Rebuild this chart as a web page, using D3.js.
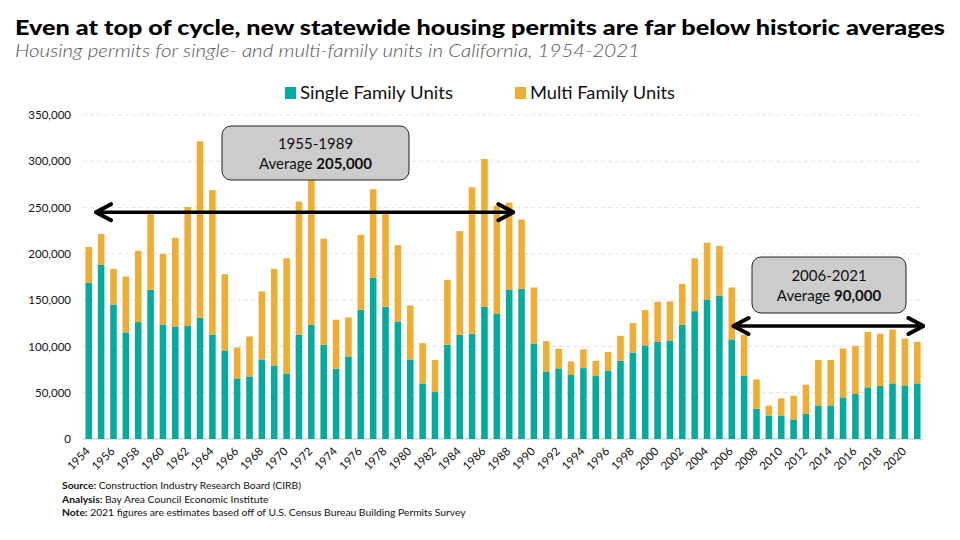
<!DOCTYPE html>
<html>
<head>
<meta charset="utf-8">
<script src="https://cdn.jsdelivr.net/npm/d3@7"></script>
<style>
  body { margin: 0; background: #fff; }
  svg { display: block; font-family: Lato, "Open Sans", sans-serif; }
</style>
</head>
<body>
<div id="chart"></div>
<script>
// California housing permits, single- vs multi-family (thousands).
var years = d3.range(1954, 2022);

var singleFamily = [
  168.7, 188.1, 145.3, 115.1, 126.3, 161.2, 123.7, 121.6, 122.7, 130.9,
  112.9, 95.7, 65.5, 67.6, 86.0, 79.5, 70.9, 112.9, 123.4, 101.8,
  75.9, 89.2, 139.6, 174.1, 142.8, 127.0, 86.0, 60.1, 50.7, 101.8,
  112.6, 113.7, 142.8, 135.6, 161.5, 162.2, 103.2, 73.0, 76.3, 69.1,
  76.6, 68.0, 74.1, 84.5, 93.5, 101.1, 105.4, 106.5, 123.4, 138.1,
  150.7, 154.7, 107.6, 68.0, 32.7, 25.5, 25.5, 21.2, 27.0, 36.3,
  36.3, 45.0, 48.6, 55.8, 57.2, 60.1, 57.9, 60.1
];

var totalUnits = [
  207.5, 221.6, 183.8, 175.5, 203.2, 243.0, 200.0, 217.3, 250.7, 321.6,
  268.7, 178.0, 98.9, 110.8, 159.4, 183.8, 195.3, 256.5, 280.6, 216.5,
  128.8, 131.3, 220.5, 269.8, 243.9, 209.4, 144.2, 103.6, 85.3, 171.9,
  224.5, 271.9, 302.5, 252.2, 255.4, 237.1, 163.7, 105.8, 97.5, 83.8,
  96.8, 84.5, 93.9, 111.5, 125.2, 139.2, 148.2, 148.6, 167.6, 195.3,
  212.2, 208.6, 163.7, 112.6, 64.4, 36.0, 43.9, 46.8, 58.6, 85.3,
  85.3, 97.8, 100.7, 115.5, 113.7, 118.3, 108.6, 105.0
];

var yTicks = [0, 50000, 100000, 150000, 200000, 250000, 300000, 350000];
var seriesNames = ["Single Family Units", "Multi Family Units"];

var width = 960,
    height = 540;

var teal = "#02ab9e",
    orange = "#efae32";

// Rows for the stack, values in units.
var rows = years.map(function (yr, i) {
  return {
    year: yr,
    single: singleFamily[i] * 1000,
    multi: (totalUnits[i] - singleFamily[i]) * 1000
  };
});

var svg = d3.select("#chart").append("svg")
  .attr("width", width)
  .attr("height", height);

var x = d3.scaleBand()
  .domain(years)
  .range([83, 923])
  .paddingInner(0.47)
  .paddingOuter(0.2);

var y = d3.scaleLinear()
  .domain([0, 350000])
  .range([439, 115]);

// Title block
var title = svg.append("text")
  .attr("x", 15)
  .attr("y", 35)
  .attr("font-size", 21)
  .attr("font-weight", 900)
  .attr("fill", "#000")
  .text("Even at top of cycle, new statewide housing permits are far below historic averages");
// squeeze/stretch to the width the original title takes
if (title.node().getComputedTextLength() > 0)
  title.attr("textLength", 930).attr("lengthAdjust", "spacingAndGlyphs");

var subtitle = svg.append("text")
  .attr("x", 15)
  .attr("y", 57)
  .attr("font-size", 18.5)
  .attr("font-style", "italic")
  .attr("font-weight", 300)
  .attr("fill", "#555")
  .text("Housing permits for single- and multi-family units in California, 1954-2021");
if (subtitle.node().getComputedTextLength() > 0)
  subtitle.attr("textLength", 625).attr("lengthAdjust", "spacingAndGlyphs");

// Legend
var legend = svg.append("g");
var legendX = [285, 515];
var legendW = [153, 145];
seriesNames.forEach(function (name, i) {
  legend.append("rect")
    .attr("x", legendX[i])
    .attr("y", 87)
    .attr("width", 11)
    .attr("height", 12)
    .attr("fill", i === 0 ? teal : orange);
  legend.append("text")
    .attr("x", legendX[i] + 15)
    .attr("y", 99)
    .attr("font-size", 17.5)
    .attr("fill", "#111")
    .attr("textLength", legendW[i])
    .attr("lengthAdjust", "spacingAndGlyphs")
    .text(name);
});

// Gridlines + y labels
var grid = svg.append("g");
grid.selectAll("line")
  .data(yTicks)
  .enter().append("line")
  .attr("x1", 83)
  .attr("x2", 923)
  .attr("y1", function (d) { return y(d); })
  .attr("y2", function (d) { return y(d); })
  .attr("stroke", function (d) { return d === 0 ? "#d9d9d9" : "#e3e3e3"; })
  .attr("stroke-width", function (d) { return d === 0 ? 1.5 : 1; })
  .attr("stroke-dasharray", function (d) { return d === 0 ? null : "4,3"; });

var yAxis = svg.append("g")
  .attr("transform", "translate(83,0)")
  .call(d3.axisLeft(y).tickValues(yTicks).tickFormat(d3.format(",")).tickSize(0).tickPadding(12));
yAxis.select(".domain").remove();
yAxis.selectAll("text")
  .attr("font-family", "Lato, sans-serif")
  .attr("font-size", 11.5)
  .attr("fill", "#111");

// Stacked bars
var stack = d3.stack().keys(["single", "multi"]);
var layers = stack(rows);

svg.append("g").selectAll("g")
  .data(layers)
  .enter().append("g")
  .attr("fill", function (d, i) { return i === 0 ? teal : orange; })
  .selectAll("rect")
  .data(function (d) { return d; })
  .enter().append("rect")
  .attr("x", function (d) { return x(d.data.year); })
  .attr("width", x.bandwidth())
  .attr("y", function (d) { return y(d[1]); })
  .attr("height", function (d) { return y(d[0]) - y(d[1]); });

// x labels every other year, slanted
var xLabels = svg.append("g");
xLabels.selectAll("text")
  .data(years.filter(function (d) { return d % 2 === 0; }))
  .enter().append("text")
  .attr("transform", function (d) {
    return "translate(" + (x(d) + x.bandwidth() / 2 + 2) + ",452) rotate(-45)";
  })
  .attr("text-anchor", "end")
  .attr("font-size", 11.5)
  .attr("fill", "#111")
  .text(function (d) { return d; });

// Average annotations: double arrow + grey callout box
var markers = svg.append("defs");
markers.append("marker")
  .attr("id", "chev")
  .attr("viewBox", "-20 -11 22 22")
  .attr("refX", 0)
  .attr("refY", 0)
  .attr("markerUnits", "userSpaceOnUse")
  .attr("markerWidth", 22)
  .attr("markerHeight", 22)
  .attr("orient", "auto-start-reverse")
  .append("path")
  .attr("d", "M-15,-8 L0,0 L-15,8")
  .attr("fill", "none")
  .attr("stroke", "#000")
  .attr("stroke-width", 4)
  .attr("stroke-linejoin", "round")
  .attr("stroke-linecap", "round");

var annotations = [
  { from: 1954, to: 1988, level: 245000, box: [222, 126, 187, 54], range: "1955-1989", avg: "205,000",
    dx0: 10.5, dx1: 7.5 },
  { from: 2006, to: 2021, level: 122000, box: [752, 257, 154, 56], range: "2006-2021", avg: "90,000",
    dx0: 5, dx1: 9.5 }
];

annotations.forEach(function (a) {
  svg.append("line")
    .attr("x1", x(a.from) + a.dx0)
    .attr("x2", x(a.to) + a.dx1)
    .attr("y1", y(a.level))
    .attr("y2", y(a.level))
    .attr("stroke", "#000")
    .attr("stroke-width", 3.5)
    .attr("marker-start", "url(#chev)")
    .attr("marker-end", "url(#chev)");

  var g = svg.append("g").attr("transform", "translate(" + a.box[0] + "," + a.box[1] + ")");
  g.append("rect")
    .attr("width", a.box[2])
    .attr("height", a.box[3])
    .attr("rx", 9)
    .attr("fill", "#cccccc")
    .attr("stroke", "#222")
    .attr("stroke-width", 1);
  g.append("text")
    .attr("x", a.box[2] / 2)
    .attr("y", a.box[3] / 2 - 4)
    .attr("text-anchor", "middle")
    .attr("font-size", 15)
    .attr("fill", "#111")
    .text(a.range);
  var t = g.append("text")
    .attr("x", a.box[2] / 2)
    .attr("y", a.box[3] / 2 + 16)
    .attr("text-anchor", "middle")
    .attr("font-size", 15)
    .attr("fill", "#111");
  t.append("tspan").text("Average ");
  t.append("tspan").attr("font-weight", 700).text(a.avg);
});

// Footer notes
var notes = [
  ["Source:", " Construction Industry Research Board (CIRB)"],
  ["Analysis:", " Bay Area Council Economic Institute"],
  ["Note:", " 2021 figures are estimates based off of U.S. Census Bureau Building Permits Survey"]
];
notes.forEach(function (n, i) {
  var t = svg.append("text")
    .attr("x", 62)
    .attr("y", 489 + i * 13.5)
    .attr("font-size", 10.3)
    .attr("fill", "#111");
  t.append("tspan").attr("font-weight", 700).text(n[0]);
  t.append("tspan").text(n[1]);
});
</script>
</body>
</html>
